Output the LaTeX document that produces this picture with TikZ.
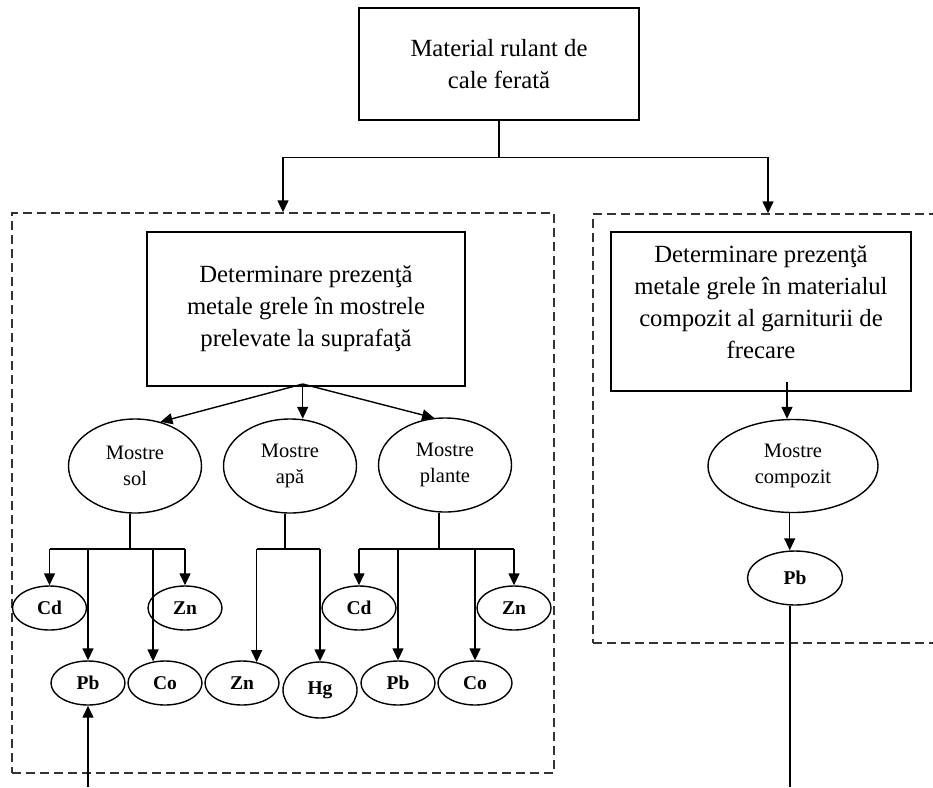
\documentclass[tikz,border=0pt]{standalone}
\usepackage{fontspec}
\setmainfont{Liberation Serif}
\usetikzlibrary{arrows.meta,shapes.geometric,calc}
\tikzset{
  conn/.style={line width=1.4pt, draw=black},
  arr/.style={conn, -{Triangle[length=12pt,width=11pt]}},
  bigbox/.style={draw, line width=1.4pt, rectangle, inner sep=0pt, align=center,
    font=\fontsize{24.7}{32}\selectfont},
  bigtext/.style={align=center, inner sep=0pt, font=\fontsize{24.7}{32}\selectfont},
  frame/.style={draw=black!80, line width=1.4pt, dash pattern=on 9pt off 5pt,
    rectangle, inner sep=0pt},
  sample/.style={ellipse, draw, line width=1.4pt, inner sep=0pt, align=center,
    minimum width=133pt, minimum height=94pt, font=\fontsize{20.5}{26}\selectfont},
  metal/.style={ellipse, draw, line width=1.4pt, inner sep=0pt,
    minimum width=74pt, minimum height=44pt, font=\fontsize{19.5}{22}\selectfont\bfseries},
}
\begin{document}
\begin{tikzpicture}[x=1pt,y=-1pt]
\useasboundingbox (0,0) rectangle (933,787);
\clip (0,0) rectangle (933,787);

% dashed frames around the two branches
\node[frame, minimum width=542pt, minimum height=560pt] (frameL) at (283,493) {};
\node[frame, minimum width=350pt, minimum height=429pt] (frameR) at (768,428.5) {};

% root
\node[bigbox, minimum width=280pt, minimum height=112pt] (top) at (499,64)
  {Material rulant de\\cale ferată};
\coordinate (split) at ($(top.south)+(0,37)$);
\draw[conn] (top.south) -- (split);
\draw[arr] (split) -| (frameL.north);
\draw[arr] (split) -| (frameR.north);

% left branch: surface samples
\node[bigbox, minimum width=318pt, minimum height=154pt] (lbox) at (306,309)
  {Determinare prezenţă\\metale grele în mostrele\\prelevate la suprafaţă};

\node[sample] (sol) at (135,466) {Mostre\\sol};
\node[sample] (apa) at (290,466) {Mostre\\apă};
\node[sample] (plante) at (445,465) {Mostre\\plante};

\coordinate (src) at (302.7,384);
\draw[arr] (src) -- (sol.60);
\draw[arr] (src) -- (src |- apa.79);
\draw[arr] (src) -- (plante.103);

\node[metal] (cd1) at (49.5,608) {Cd};
\node[metal] (zn1) at (185,608) {Zn};
\node[metal] (pb1) at (88,683) {Pb};
\node[metal] (co1) at (165,683) {Co};
\node[metal] (zn3) at (242,683) {Zn};
\node[metal, minimum height=56pt] (hg) at (320,690) {Hg};
\node[metal] (cd2) at (359,608) {Cd};
\node[metal] (zn2) at (514,608) {Zn};
\node[metal] (pb2) at (398,683) {Pb};
\node[metal] (co2) at (475,683) {Co};

\coordinate (busy) at (0,549);

% soil
\draw[conn] (sol.264) -- (sol.264 |- busy);
\draw[conn] (cd1.north |- busy) -- (zn1.north |- busy);
\draw[arr] (cd1.north |- busy) -- (cd1.north);
\draw[arr] (pb1.north |- busy) -- (pb1.north);
\draw[arr] (co1.119 |- busy) -- (co1.119);
\draw[arr] (zn1.north |- busy) -- (zn1.north);

% water
\draw[conn] (apa.264) -- (apa.264 |- busy);
\draw[conn] (zn3.55 |- busy) -- (hg.north |- busy);
\draw[arr] (zn3.55 |- busy) -- (zn3.55);
\draw[arr] (hg.north |- busy) -- (hg.north);

% plants
\draw[conn] (plante.263) -- (plante.263 |- busy);
\draw[conn] (cd2.north |- busy) -- (zn2.north |- busy);
\draw[arr] (cd2.north |- busy) -- (cd2.north);
\draw[arr] (pb2.north |- busy) -- (pb2.north);
\draw[arr] (co2.north |- busy) -- (co2.north);
\draw[arr] (zn2.north |- busy) -- (zn2.north);

\coordinate (lend) at (88,787);
\draw[arr] (lend) -- (pb1.south);

% right branch: brake lining composite
\node[draw, line width=1.4pt, rectangle, inner sep=0pt,
  minimum width=300pt, minimum height=159pt] (rbox) at (761,311.5) {};
\node[bigtext] (rtext) at (761,302.5)
  {Determinare prezenţă\\metale grele în materialul\\compozit al garniturii de\\frecare};

\node[sample, minimum width=170pt, minimum height=93pt] (comp) at (793,466)
  {Mostre\\compozit};
\node[metal, minimum width=95pt, minimum height=54pt] (pb3) at (795,578) {Pb};

\coordinate (rsrc) at (787,382);
\draw[arr] (rsrc) -- (rsrc |- comp.north);
\draw[arr] (comp.266) -- (comp.266 |- pb3.north);
\coordinate (rend) at (787,787);
\draw[conn] (pb3.260) -- (pb3.260 |- rend);
\end{tikzpicture}
\end{document}
